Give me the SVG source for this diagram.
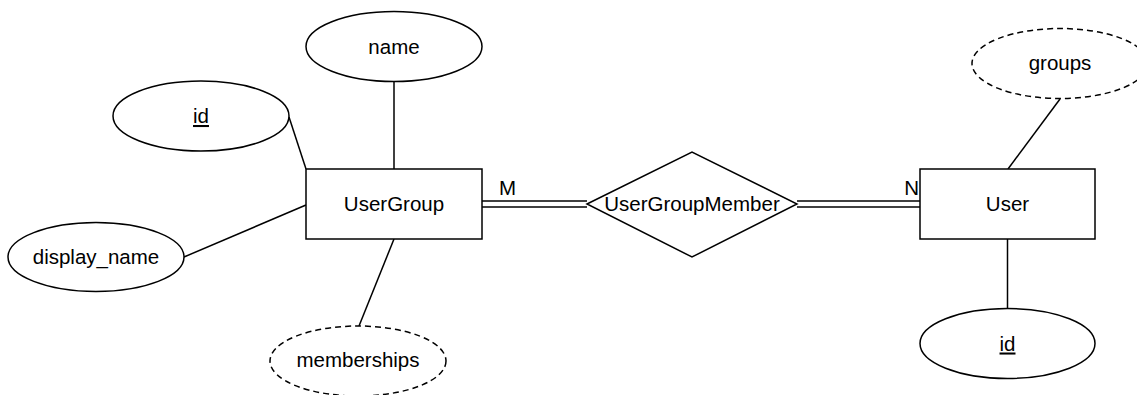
<svg xmlns="http://www.w3.org/2000/svg" width="1137" height="395" viewBox="0 0 1137 395">
<style>
.s{fill:#fff;stroke:#000;stroke-width:1.5}
.d{stroke-dasharray:6 4}
.c{stroke:#000;stroke-width:1.5;fill:none}
text{font-family:"Liberation Sans",Arial,sans-serif;font-size:20.5px;fill:#000;text-anchor:middle}
.u{text-decoration:underline}
</style>
<rect width="1137" height="395" fill="#fff"/>
<g id="connectors">
<line class="c" x1="394" y1="81" x2="394" y2="169"/>
<line class="c" x1="289" y1="117" x2="306" y2="169"/>
<line class="c" x1="184" y1="257" x2="306" y2="205"/>
<line class="c" x1="394" y1="239" x2="359" y2="326"/>
<line class="c" x1="1060" y1="99" x2="1008" y2="169"/>
<line class="c" x1="1007.5" y1="239" x2="1007.5" y2="308"/>
<line class="c" x1="482" y1="201" x2="587" y2="201"/>
<line class="c" x1="482" y1="207" x2="587" y2="207"/>
<line class="c" x1="797" y1="201" x2="920" y2="201"/>
<line class="c" x1="797" y1="207" x2="920" y2="207"/>
<text x="499" y="195" style="text-anchor:start">M</text>
<text x="919" y="195" style="text-anchor:end">N</text>
</g>
<g id="UserGroup">
<rect class="s" x="306" y="169" width="176" height="70"/>
<text x="394" y="211">UserGroup</text>
</g>
<g id="UserGroup_name">
<ellipse class="s" cx="394" cy="46.5" rx="88" ry="35"/>
<text x="394" y="53.5">name</text>
</g>
<g id="UserGroup_id">
<ellipse class="s" cx="201" cy="116" rx="88" ry="35"/>
<text class="u" x="201" y="123">id</text>
</g>
<g id="UserGroup_display_name">
<ellipse class="s" cx="96" cy="257" rx="88" ry="34.5"/>
<text x="96" y="264">display_name</text>
</g>
<g id="UserGroup_memberships">
<ellipse class="s d" cx="358" cy="361" rx="88" ry="35"/>
<text x="358" y="367">memberships</text>
</g>
<g id="UserGroupMember">
<polygon class="s" points="587,204 692,152 797,204 692,257"/>
<text x="692" y="211">UserGroupMember</text>
</g>
<g id="User">
<rect class="s" x="920" y="169" width="175" height="70"/>
<text x="1007.5" y="211">User</text>
</g>
<g id="User_groups">
<ellipse class="s d" cx="1060" cy="63.5" rx="88" ry="35"/>
<text x="1060" y="70">groups</text>
</g>
<g id="User_id">
<ellipse class="s" cx="1007.5" cy="343.5" rx="87.5" ry="35"/>
<text class="u" x="1007.5" y="350.5">id</text>
</g>
</svg>
